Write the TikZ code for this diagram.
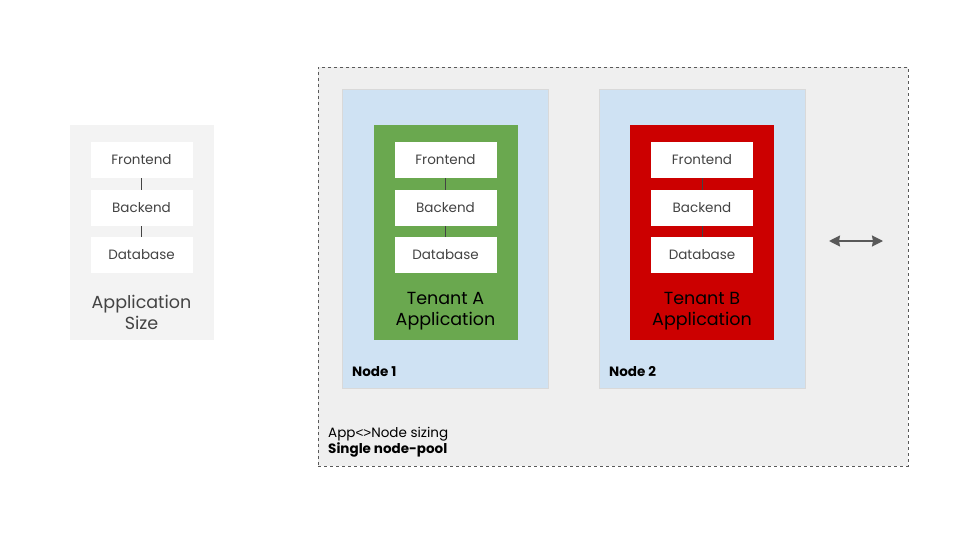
\documentclass[tikz,border=0pt]{standalone}
\usepackage{fontspec}
\setmainfont{Poppins}
\usetikzlibrary{arrows.meta}
\definecolor{panelgray}{HTML}{F3F3F3}
\definecolor{poolgray}{HTML}{EFEFEF}
\definecolor{nodeblue}{HTML}{CFE2F3}
\definecolor{tenantgreen}{HTML}{6AA84F}
\definecolor{tenantred}{HTML}{CC0000}
\definecolor{textgray}{HTML}{434343}
\definecolor{arrowgray}{HTML}{595959}

\begin{document}
\begin{tikzpicture}[
  x=1pt, y=-1pt,
  every node/.style={inner sep=0pt, font=\fontsize{13.5}{15}\selectfont},
  tier/.style={fill=white, minimum width=102pt, minimum height=36pt, text=textgray},
  appbox/.style={minimum width=144pt, minimum height=215pt},
  hostbox/.style={fill=nodeblue, draw=black!15, line width=0.6pt, minimum width=206pt, minimum height=299pt},
  link/.style={draw=textgray, line width=0.6pt},
  caption/.style={align=center, font=\fontsize{17.5}{21}\selectfont}
]
\useasboundingbox (0,0) rectangle (960,540);

% node pool
\node[fill=poolgray, draw=black!65, dashed, line width=0.7pt,
  minimum width=590pt, minimum height=399pt] (pool) at (613,266.5) {};
\node[anchor=base west] (sizing) at (328,437) {App{\fontspec{Liberation Sans}<>}Node sizing};
\node[anchor=base west, font=\fontsize{13.5}{15}\bfseries] (single) at (328,453) {Single node-pool};

% hosts
\node[hostbox] (host1) at (445,238.5) {};
\node[hostbox] (host2) at (702,238.5) {};
\node[anchor=base west, font=\fontsize{13.5}{15}\bfseries] (host1-lbl) at (352,376) {Node 1};
\node[anchor=base west, font=\fontsize{13.5}{15}\bfseries] (host2-lbl) at (609,376) {Node 2};

% applications
\node[appbox, fill=panelgray] (appL) at (141.5,232.5) {};
\node[appbox, fill=tenantgreen] (appA) at (445.5,232.5) {};
\node[appbox, fill=tenantred] (appB) at (702,232.5) {};

\foreach \s/\x in {L/141.5, A/445.5, B/702} {
  \node[tier] (\s-fe) at (\x,160) {Frontend};
  \node[tier] (\s-be) at (\x,208) {Backend};
  \node[tier] (\s-db) at (\x,255) {Database};
  \draw[link] (\s-fe) -- (\s-be);
  \draw[link] (\s-be) -- (\s-db);
}

\node[caption, text=textgray] (lblL) at (141.5,312) {Application\\Size};
\node[caption] (lblA) at (445.5,311) {Tenant A\\Application};
\node[caption] (lblB) at (702,311) {Tenant B\\Application};

% resize arrow
\coordinate (grow-l) at (829,241);
\coordinate (grow-r) at (883,241);
\draw[arrowgray, line width=1.8pt, {Stealth[length=11pt,width=11pt,inset=1pt]}-{Stealth[length=11pt,width=11pt,inset=1pt]}] (grow-l) -- (grow-r);
\end{tikzpicture}
\end{document}
